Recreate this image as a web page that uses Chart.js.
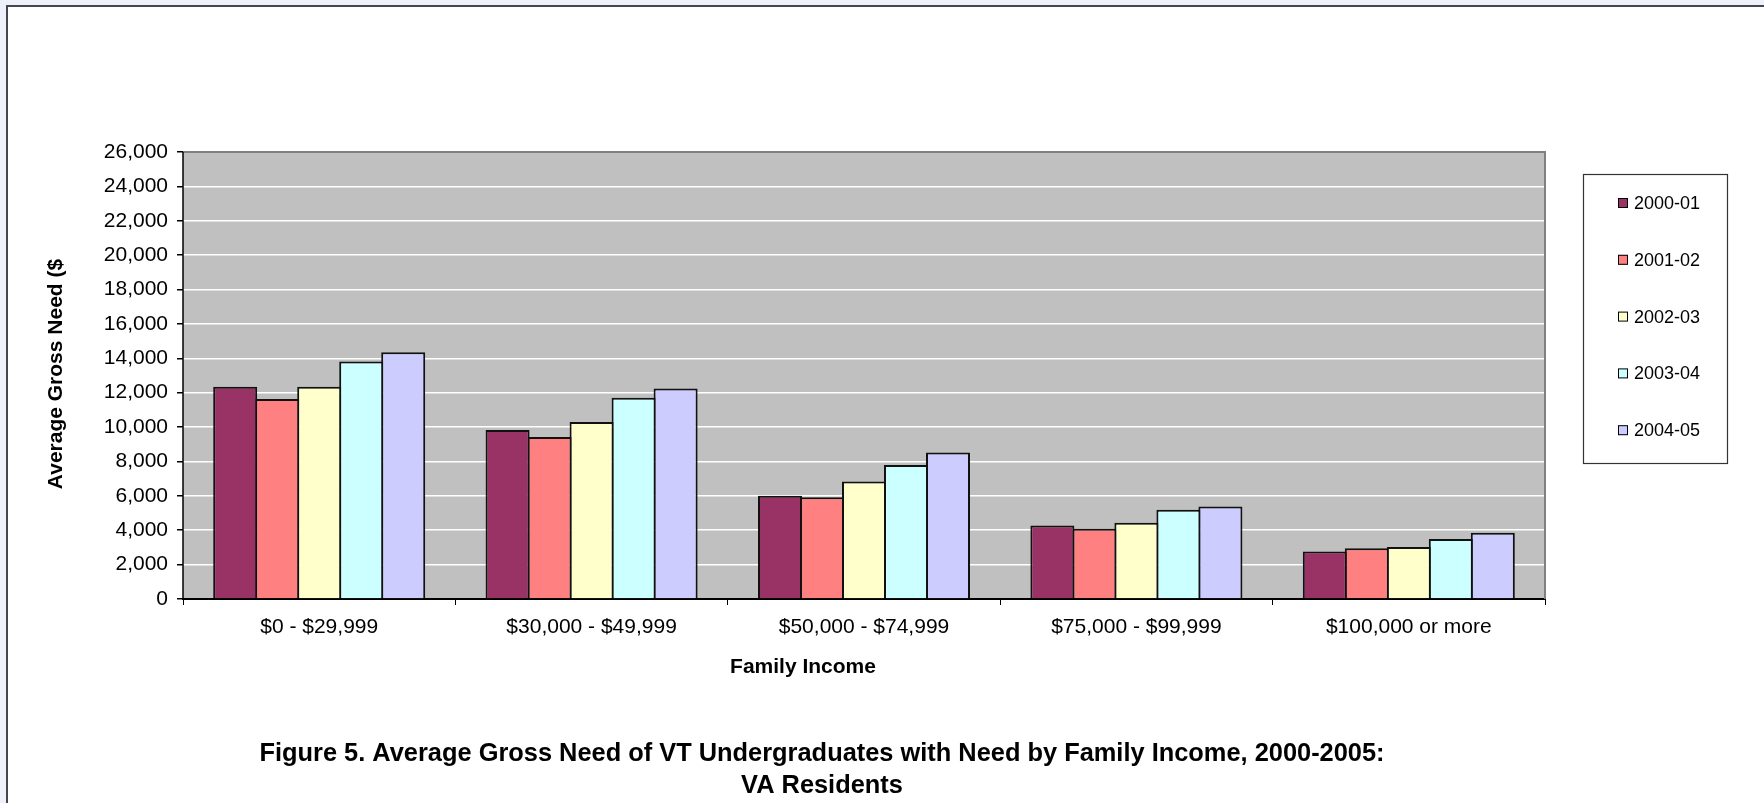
<!DOCTYPE html>
<html>
<head>
<meta charset="utf-8">
<title>Average Gross Need by Family Income</title>
<script src="https://cdn.jsdelivr.net/npm/chart.js@4.4.1/dist/chart.umd.min.js"></script>
<style>
  html, body { margin: 0; padding: 0; }
  body { width: 1764px; height: 803px; overflow: hidden; background: #eef0fa; position: relative; }
  #frame { position: absolute; left: 6px; top: 5px; width: 1800px; height: 840px; background: #fff;
           border-left: 2px solid #45454f; border-top: 2px solid #45454f; }
  #chart { position: absolute; left: 0; top: 0; }
</style>
</head>
<body>
<div id="frame"></div>
<canvas id="chart" width="1764" height="803"></canvas>
<script>
// Family income brackets
const categories = ['$0 - $29,999', '$30,000 - $49,999', '$50,000 - $74,999', '$75,000 - $99,999', '$100,000 or more'];

// Average gross need ($) per academic year
const y2000_01 = [12350, 9830, 6000, 4270, 2770];
const y2001_02 = [11630, 9420, 5920, 4080, 2950];
const y2002_03 = [12350, 10290, 6830, 4440, 3020];
const y2003_04 = [13810, 11710, 7790, 5190, 3490];
const y2004_05 = [14350, 12250, 8520, 5380, 3860];

const seriesLabels = ['2000-01', '2001-02', '2002-03', '2003-04', '2004-05'];
const seriesColors = ['#993366', '#ff8080', '#ffffcc', '#ccffff', '#ccccff'];

// Value axis ticks
const yMin = 0;
const yMax = 26000;
const yStep = 2000;

const titleLines = ['Figure 5. Average Gross Need of VT Undergraduates with Need by Family Income, 2000-2005:', 'VA Residents'];
const xTitle = 'Family Income';
const yTitle = 'Average Gross Need ($';

const FONT = '"Liberation Sans", Arial, Helvetica, sans-serif';

const seriesData = [y2000_01, y2001_02, y2002_03, y2003_04, y2004_05];

// Grey plot area with a darker frame on top and right
const plotArea = {
  id: 'plotArea',
  beforeDraw(chart) {
    const { ctx, chartArea: a } = chart;
    ctx.save();
    ctx.fillStyle = '#c0c0c0';
    ctx.fillRect(a.left, a.top, a.right - a.left, a.bottom - a.top);
    ctx.restore();
  },
  afterDatasetsDraw(chart) {
    const { ctx, chartArea: a } = chart;
    ctx.save();
    ctx.strokeStyle = '#808080';
    ctx.lineWidth = 2;
    ctx.beginPath();
    ctx.moveTo(a.left, a.top);
    ctx.lineTo(a.right, a.top);
    ctx.lineTo(a.right, a.bottom);
    ctx.stroke();
    ctx.strokeStyle = '#000';
    ctx.lineWidth = 1.5;
    ctx.beginPath();
    ctx.moveTo(a.left, a.top);
    ctx.lineTo(a.left, a.bottom);
    ctx.stroke();
    ctx.restore();
  }
};

// Boxed legend, axis titles and figure caption
const annotations = {
  id: 'annotations',
  afterDraw(chart) {
    const { ctx } = chart;
    ctx.save();

    // legend box
    const lx = 1583, ly = 174, lw = 144, lh = 289;
    ctx.strokeStyle = '#333';
    ctx.lineWidth = 1.2;
    ctx.strokeRect(lx + 0.5, ly + 0.5, lw, lh);
    ctx.font = '18px ' + FONT;
    ctx.textBaseline = 'middle';
    ctx.textAlign = 'left';
    chart.data.datasets.forEach((ds, i) => {
      const cy = 203 + i * 56.8;
      ctx.fillStyle = ds.backgroundColor;
      ctx.fillRect(1618, cy - 5, 10, 10);
      ctx.strokeStyle = '#000';
      ctx.lineWidth = 1;
      ctx.strokeRect(1618.5, cy - 4.5, 9, 9);
      ctx.fillStyle = '#000';
      ctx.fillText(ds.label, 1634, cy + 1);
    });

    // y axis title (rotated)
    ctx.font = 'bold 21px ' + FONT;
    ctx.fillStyle = '#000';
    ctx.textAlign = 'center';
    ctx.textBaseline = 'middle';
    ctx.save();
    ctx.translate(56, 374);
    ctx.rotate(-Math.PI / 2);
    ctx.fillText(yTitle, 0, 0);
    ctx.restore();

    // x axis title
    ctx.fillText(xTitle, 803, 667);

    // caption
    ctx.font = 'bold 25.4px ' + FONT;
    ctx.fillText(titleLines[0], 822, 754);
    ctx.fillText(titleLines[1], 822, 786);

    ctx.restore();
  }
};

new Chart(document.getElementById('chart'), {
  type: 'bar',
  data: {
    labels: categories,
    datasets: seriesData.map((d, i) => ({
      label: seriesLabels[i],
      data: d,
      backgroundColor: seriesColors[i],
      borderColor: '#111',
      borderWidth: 2,
      borderSkipped: 'start',
      categoryPercentage: 0.771,
      barPercentage: 1.048
    }))
  },
  options: {
    responsive: false,
    animation: false,
    devicePixelRatio: 1,
    layout: { padding: { left: 83, right: 219, top: 152, bottom: 144 } },
    plugins: {
      legend: { display: false },
      tooltip: { enabled: false }
    },
    scales: {
      x: {
        z: 1,
        afterFit(s) { s.height = 60; },
        grid: { offset: true, drawOnChartArea: false, tickLength: 6, tickColor: '#000', color: '#000', lineWidth: 1 },
        border: { display: true, color: '#000', width: 2 },
        ticks: { color: '#000', font: { family: FONT, size: 21 }, padding: 10, maxRotation: 0 }
      },
      y: {
        min: yMin,
        max: yMax,
        afterFit(s) { s.width = 100; },
        grid: { color: '#ffffff', lineWidth: 1.5, tickLength: 6, tickColor: '#000' },
        border: { display: false },
        ticks: {
          stepSize: yStep,
          color: '#000',
          font: { family: FONT, size: 21 },
          padding: 9,
          callback: v => v.toLocaleString('en-US')
        }
      }
    }
  },
  plugins: [plotArea, annotations]
});
</script>
</body>
</html>
